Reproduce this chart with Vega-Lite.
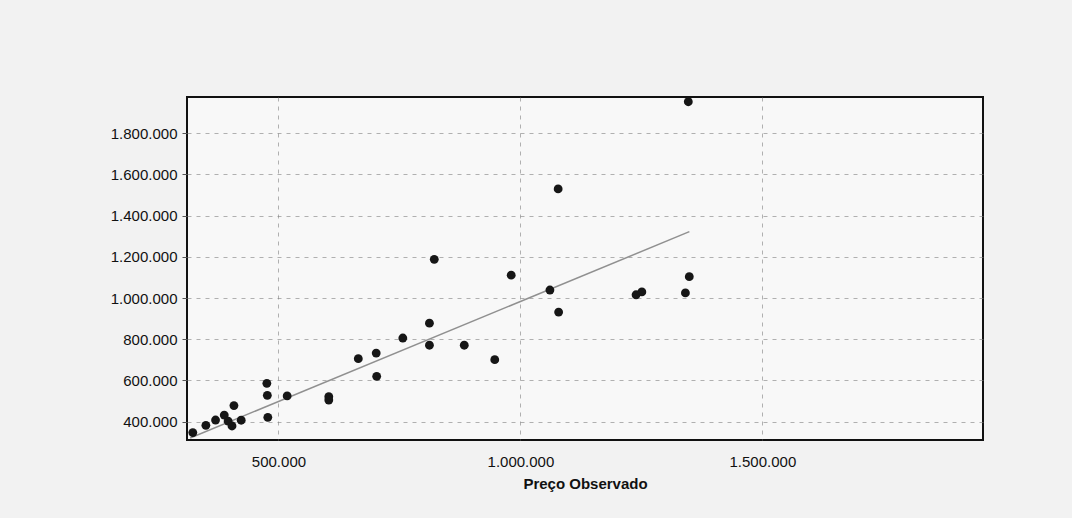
{
  "$schema": "https://vega.github.io/schema/vega-lite/v6.json",
  "autosize": {"type": "none"},
  "padding": {"left": 187, "top": 97, "right": 89, "bottom": 78},
  "width": 796,
  "height": 343,
  "background": "#f2f2f2",
  "config": {
    "locale": {"number": {"decimal": ",", "thousands": ".", "grouping": [3], "currency": ["R$", ""]}},
    "view": {"stroke": "#111111", "strokeWidth": 2, "fill": "#f8f8f8"},
    "font": "Liberation Sans"
  },
  "datasets": {
    "pontos": [
      {"observado": 323000, "estimado": 347000},
      {"observado": 350000, "estimado": 382000},
      {"observado": 370000, "estimado": 408000},
      {"observado": 388000, "estimado": 432000},
      {"observado": 396000, "estimado": 403000},
      {"observado": 404000, "estimado": 379000},
      {"observado": 408000, "estimado": 478000},
      {"observado": 423000, "estimado": 407000},
      {"observado": 476000, "estimado": 586000},
      {"observado": 477000, "estimado": 528000},
      {"observado": 478000, "estimado": 421000},
      {"observado": 518000, "estimado": 525000},
      {"observado": 604000, "estimado": 521000},
      {"observado": 604000, "estimado": 505000},
      {"observado": 665000, "estimado": 706000},
      {"observado": 702000, "estimado": 733000},
      {"observado": 703000, "estimado": 620000},
      {"observado": 757000, "estimado": 806000},
      {"observado": 812000, "estimado": 878000},
      {"observado": 812000, "estimado": 771000},
      {"observado": 822000, "estimado": 1188000},
      {"observado": 884000, "estimado": 771000},
      {"observado": 947000, "estimado": 701000},
      {"observado": 981000, "estimado": 1111000},
      {"observado": 1061000, "estimado": 1039000},
      {"observado": 1078000, "estimado": 1530000},
      {"observado": 1079000, "estimado": 932000},
      {"observado": 1239000, "estimado": 1016000},
      {"observado": 1251000, "estimado": 1030000},
      {"observado": 1341000, "estimado": 1025000},
      {"observado": 1349000, "estimado": 1104000},
      {"observado": 1347000, "estimado": 1953000}
    ],
    "reta": [
      {"observado": 317600, "estimado": 320800},
      {"observado": 1349200, "estimado": 1322300}
    ]
  },
  "layer": [
    {
      "data": {"name": "reta"},
      "mark": {"type": "line", "color": "#909090", "strokeWidth": 1.5},
      "encoding": {
        "x": {"field": "observado", "type": "quantitative"},
        "y": {"field": "estimado", "type": "quantitative"}
      }
    },
    {
      "data": {"name": "pontos"},
      "mark": {"type": "circle", "size": 78, "color": "#161616", "opacity": 1},
      "encoding": {
        "x": {
          "field": "observado",
          "type": "quantitative",
          "scale": {"domain": [311000, 1956000], "nice": false, "zero": false},
          "axis": {
            "title": "Preço Observado",
            "titleFontSize": 15,
            "titleFontWeight": "bold",
            "titleColor": "#111111",
            "titlePadding": 7,
            "values": [500000, 1000000, 1500000],
            "format": ",d",
            "labelFontSize": 15,
            "labelColor": "#111111",
            "labelPadding": 14,
            "tickSize": 0,
            "domain": false,
            "gridColor": "#808080",
            "gridDash": [4, 5],
            "gridWidth": 1,
            "gridOpacity": 0.6
          }
        },
        "y": {
          "field": "estimado",
          "type": "quantitative",
          "scale": {"domain": [311000, 1976000], "nice": false, "zero": false},
          "axis": {
            "title": null,
            "values": [400000, 600000, 800000, 1000000, 1200000, 1400000, 1600000, 1800000],
            "format": ",d",
            "labelFontSize": 15,
            "labelColor": "#111111",
            "labelPadding": 5,
            "tickSize": 5,
            "tickColor": "#555555",
            "domain": false,
            "gridColor": "#808080",
            "gridDash": [4, 5],
            "gridWidth": 1,
            "gridOpacity": 0.6
          }
        }
      }
    }
  ]
}
